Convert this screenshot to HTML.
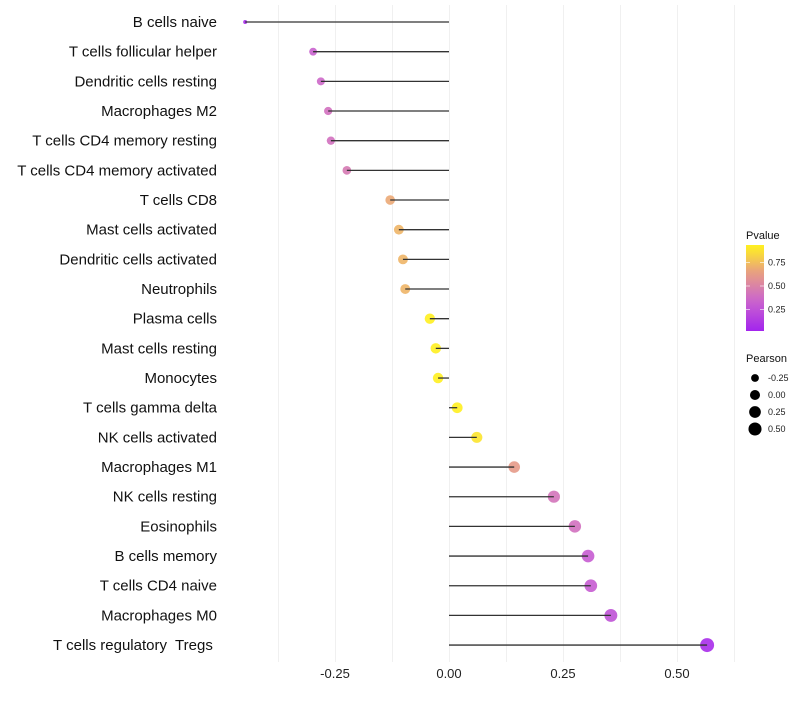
<!DOCTYPE html>
<html><head><meta charset="utf-8"><style>
body{margin:0;background:#fff;font-family:"Liberation Sans",sans-serif}
</style></head><body>
<svg id="chart" width="800" height="700" xmlns="http://www.w3.org/2000/svg"></svg>
<script>
const categories=["B cells naive","T cells follicular helper","Dendritic cells resting","Macrophages M2","T cells CD4 memory resting","T cells CD4 memory activated","T cells CD8","Mast cells activated","Dendritic cells activated","Neutrophils","Plasma cells","Mast cells resting","Monocytes","T cells gamma delta","NK cells activated","Macrophages M1","NK cells resting","Eosinophils","B cells memory","T cells CD4 naive","Macrophages M0","T cells regulatory\u00a0 Tregs\u00a0"];
const pearson=[-0.447,-0.298,-0.281,-0.265,-0.259,-0.224,-0.129,-0.110,-0.101,-0.096,-0.042,-0.029,-0.024,0.018,0.061,0.143,0.230,0.276,0.305,0.311,0.355,0.566];
const pvalue=[0.05,0.33,0.36,0.4,0.4,0.45,0.68,0.72,0.72,0.72,0.92,0.92,0.92,0.95,0.88,0.62,0.42,0.4,0.3,0.3,0.25,0.06];
const xTicks=[-0.25,0,0.25,0.5];
const xTickLabels=["-0.25","0.00","0.25","0.50"];
const xGrid=[-0.375,-0.25,-0.125,0,0.125,0.25,0.375,0.5,0.625];
const sizeLegend=[-0.25,0,0.25,0.5];
const sizeLegendLabels=["-0.25","0.00","0.25","0.50"];
const colorLegend=[0.25,0.5,0.75];
const colorLegendLabels=["0.25","0.50","0.75"];

const svg=document.getElementById('chart');
const NS="http://www.w3.org/2000/svg";
const x=v=>449+v*456;
const y=i=>22+i*29.67;
const pmin=Math.min(...pearson),pmax=Math.max(...pearson);
const r=v=>2+5*Math.sqrt(Math.max(0,(v-pmin)/(pmax-pmin)));
const stops=[[0,[160,32,240]],[0.35,[204,102,204]],[0.65,[232,160,128]],[0.92,[255,240,32]],[1,[255,240,32]]];
function col(p){for(let k=0;k<stops.length-1;k++){const[a,ca]=stops[k],[b,cb]=stops[k+1];if(p<=b){const t=(p-a)/(b-a);return`rgb(${ca.map((c,j)=>Math.round(c+(cb[j]-c)*t)).join(',')})`;}}return'rgb(255,240,32)';}
const yS=p=>333-p*94;
function el(t,a,txt){const e=document.createElementNS(NS,t);for(const k in a)e.setAttribute(k,a[k]);if(txt!==undefined)e.textContent=txt;svg.appendChild(e);return e;}

xGrid.forEach(g=>{const l=el('line',{x1:Math.round(x(g))+0.5,x2:Math.round(x(g))+0.5,y1:5,y2:662,stroke:'#f0f0f0','stroke-width':1});

});
xTicks.forEach((t,i)=>{const e=el('text',{x:x(t),y:678,'font-size':13,'text-anchor':'middle',fill:'#222'},xTickLabels[i]);

});
categories.forEach((c,i)=>{
const lb=el('text',{x:217,y:y(i)+5,'font-size':15,'text-anchor':'end',fill:'#111'},c);


const d=el('circle',{cx:x(pearson[i]),cy:y(i),r:r(pearson[i]),fill:col(pvalue[i]),'fill-opacity':0.9});


const s=el('line',{x1:x(0),x2:x(pearson[i]),y1:y(i),y2:y(i),stroke:'#333','stroke-width':1.3});


});
const t1=el('text',{x:746,y:239,'font-size':11,fill:'#111'},'Pvalue');


const defs=el('defs',{});
const lg=document.createElementNS(NS,'linearGradient');lg.setAttribute('id','pg');lg.setAttribute('x1','0');lg.setAttribute('x2','0');lg.setAttribute('y1','1');lg.setAttribute('y2','0');defs.appendChild(lg);
const p0=(333-331)/94,p1=(333-245)/94;
for(let k=0;k<=10;k++){const p=p0+(p1-p0)*k/10;const st=document.createElementNS(NS,'stop');st.setAttribute('offset',k/10);st.setAttribute('stop-color',col(p));lg.appendChild(st);}
const cb=el('rect',{x:746,y:245,width:18,height:86,fill:'url(#pg)'});


colorLegend.forEach((v,i)=>{el('line',{x1:746,x2:750,y1:yS(v),y2:yS(v),stroke:'#fff','stroke-opacity':0.6});el('line',{x1:760,x2:764,y1:yS(v),y2:yS(v),stroke:'#fff','stroke-opacity':0.6});
const e=el('text',{x:768,y:yS(v)+3,'font-size':9,fill:'#222'},colorLegendLabels[i]);

});
const t2=el('text',{x:746,y:362,'font-size':11,fill:'#111'},'Pearson');


sizeLegend.forEach((v,i)=>{const cy=378+i*17;
const c=el('circle',{cx:755,cy:cy,r:r(v)-0.3,fill:'#000'});


const e=el('text',{x:768,y:cy+3,'font-size':9,fill:'#222'},sizeLegendLabels[i]);

});
</script>
</body></html>
